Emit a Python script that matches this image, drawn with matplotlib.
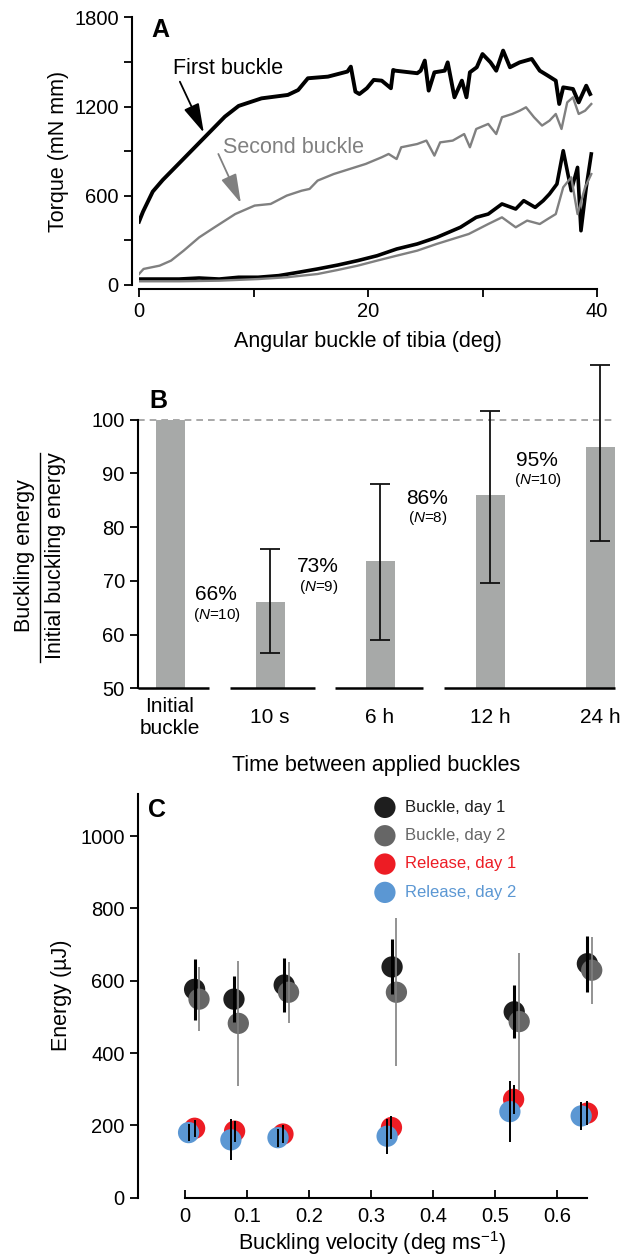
import numpy as np
import matplotlib
matplotlib.use("Agg")
import matplotlib.pyplot as plt
from matplotlib.lines import Line2D

plt.rcParams['font.family'] = ['Liberation Sans', 'DejaVu Sans']
plt.rcParams['mathtext.fontset'] = 'custom'
plt.rcParams['mathtext.rm'] = 'Liberation Sans'
plt.rcParams['mathtext.it'] = 'Liberation Sans:italic'
plt.rcParams['axes.linewidth'] = 1.5
plt.rcParams['xtick.major.width'] = 1.3
plt.rcParams['ytick.major.width'] = 1.3

# ---------------- data ----------------
# A: torque vs angle
first_load_x = [0, 0.35, 1.2, 2.07, 3.5, 5.5, 7.5, 8.7, 10.7, 13.0, 13.9, 14.75, 16.5, 18.2, 18.5,
                18.9, 19.25, 19.9, 20.5, 21.2, 22.0, 22.2, 22.4, 24.3, 24.6, 24.96, 25.3, 25.8,
                26.7, 26.96, 27.55, 28.2, 28.6, 28.9, 29.5, 30.0, 30.7, 31.2, 31.8, 32.4, 33.25,
                34.3, 35.0, 35.7, 36.4, 36.7, 37.05, 37.9, 38.4, 39.06, 39.4]
first_load_y = [426, 493, 628, 706, 818, 975, 1132, 1204, 1255, 1278, 1311, 1390, 1401, 1435, 1468,
                1300, 1284, 1323, 1379, 1374, 1323, 1446, 1441, 1424, 1441, 1509, 1307, 1430,
                1441, 1497, 1262, 1374, 1262, 1430, 1464, 1553, 1497, 1441, 1576, 1464, 1497,
                1520, 1441, 1408, 1374, 1217, 1329, 1318, 1228, 1340, 1284]
first_unload_x = [39.5, 39.06, 38.6, 38.3, 37.75, 37.05, 36.5, 35.85, 35.3, 34.6, 33.6, 32.9, 31.7,
                  30.5, 29.45, 28.07, 26.0, 24.3, 22.5, 20.8, 19.1, 17.35, 15.6, 13.9, 12.2, 10.4,
                  8.7, 7.0, 5.25, 3.5, 1.8, 0]
first_unload_y = [881, 657, 365, 791, 634, 903, 679, 612, 567, 522, 567, 511, 545,
                  477, 455, 388, 320, 276, 242, 197, 164, 134, 108, 85, 63, 52,
                  52, 40, 47, 40, 40, 40]
second_load_x = [0, 0.4, 1.8, 2.8, 3.9, 5.25, 6.6, 8.4, 10.1, 11.5, 12.9, 14.2, 14.9, 15.6, 17.0,
                 18.4, 19.8, 21.2, 21.8, 22.5, 22.9, 24.3, 25.1, 25.8, 26.3, 27.4, 28.4, 28.9,
                 29.45, 30.5, 31.2, 31.7, 32.6, 33.25, 33.8, 34.5, 35.2, 35.85, 36.4, 36.9, 37.4,
                 37.9, 38.4, 38.96, 39.5]
second_load_y = [74, 108, 130, 164, 231, 320, 388, 477, 534, 545, 601, 634, 646, 702, 746,
                 780, 814, 859, 881, 847, 926, 948, 971, 870, 959, 971, 1015, 926,
                 1049, 1083, 1015, 1128, 1150, 1172, 1195, 1128, 1072, 1105, 1150, 1049, 1228,
                 1262, 1150, 1172, 1217]
second_unload_x = [39.5, 38.96, 38.3, 37.75, 37.05, 36.4, 35.7, 35.0, 33.9, 32.9, 31.7, 30.5, 28.8,
                   26.0, 24.3, 22.5, 20.8, 19.1, 17.35, 15.6, 12.9, 10.4, 7.0, 3.5, 0]
second_unload_y = [746, 657, 477, 724, 657, 477, 444, 410, 433, 388, 455, 410, 343,
                   276, 231, 197, 164, 130, 101, 74, 52, 40, 29, 25, 25]

# B: buckling energy relative to initial
b_labels = ['Initial\nbuckle', '10 s', '6 h', '12 h', '24 h']
b_pos = [0, 1, 2.1, 3.2, 4.3]
b_vals = [100, 66, 73.7, 86, 95]
b_lo = [np.nan, 56.5, 59, 69.7, 77.5]
b_hi = [np.nan, 76, 88, 101.7, 110.2]
b_pct = ['66%', '73%', '86%', '95%']
b_n = ['10', '9', '8', '10']

# C: energy vs buckling velocity
c_names = ['Buckle, day 1', 'Buckle, day 2', 'Release, day 1', 'Release, day 2']
c_x = [[0.0155, 0.079, 0.160, 0.334, 0.531, 0.649],
       [0.0226, 0.086, 0.167, 0.341, 0.539, 0.656],
       [0.0155, 0.080, 0.158, 0.333, 0.530, 0.649],
       [0.0058, 0.074, 0.150, 0.326, 0.524, 0.639]]
c_y = [[576, 549, 588, 638, 514, 647],
       [549, 482, 568, 568, 487, 629],
       [192, 184, 176, 194, 272, 234],
       [180, 160, 166, 170, 238, 226]]
c_err = [[85, 63, 75, 76, 73, 77],
         [88, 172, 85, 205, 190, 93],
         [23, 29, 25, 32, 40, 34],
         [24, 57, 25, 48, 84, 38]]

W, H = 623, 1260
fig = plt.figure(figsize=(W / 100, H / 100), dpi=100)


def box(l, r, t, b):
    return [l / W, 1 - b / H, (r - l) / W, (b - t) / H]


TICK = 14.5
LAB = 15.5

# ---------------- A ----------------
axA = fig.add_axes(box(139, 597, 17.3, 285))
axA.plot(first_unload_x, first_unload_y, color='black', lw=2.6)
axA.plot(second_unload_x, second_unload_y, color='#808080', lw=1.7)
axA.plot(second_load_x, second_load_y, color='#808080', lw=1.7)
axA.plot(first_load_x, first_load_y, color='black', lw=2.8)
axA.set_xlim(0, 40)
axA.set_ylim(0, 1800)
axA.spines[['top', 'right']].set_visible(False)
axA.spines['left'].set_position(('outward', 5))
axA.spines['bottom'].set_position(('outward', 3))
axA.set_yticks(np.arange(0, 1801, 300), ['0', '', '600', '', '1200', '', '1800'])
axA.set_xticks(np.arange(0, 41, 10), ['0', '', '20', '', '40'])
axA.tick_params(labelsize=TICK, length=6)
axA.set_ylabel('Torque (mN mm)', fontsize=LAB, labelpad=4)
axA.set_xlabel('Angular buckle of tibia (deg)', fontsize=LAB, labelpad=7)

arrow_kw = dict(arrowstyle='-|>,head_length=0.9,head_width=0.25', lw=1.3, mutation_scale=20,
                shrinkA=0, shrinkB=0)
axA.annotate('', xy=(5.66, 1024), xytext=(3.57, 1367),
             arrowprops=dict(color='black', **arrow_kw))
axA.text(7.75, 1455, 'First buckle', fontsize=LAB, ha='center', va='center')
axA.annotate('', xy=(8.9, 550), xytext=(6.93, 881),
             arrowprops=dict(color='#808080', **arrow_kw))
axA.text(13.45, 925, 'Second buckle', fontsize=LAB, ha='center', va='center', color='#808080')
fig.text(151 / W, 1 - 37 / H, 'A', fontsize=18, fontweight='bold', va='baseline')

# ---------------- B ----------------
axB = fig.add_axes(box(138, 615, 360.7, 688.3))
axB.bar(b_pos, np.array(b_vals) - 50, bottom=50, width=0.29, color='#a7a9a8')
b_y = np.array(b_vals[1:])
axB.errorbar(b_pos[1:], b_y, yerr=[b_y - np.array(b_lo[1:]), np.array(b_hi[1:]) - b_y],
             fmt='none', ecolor='#111111', elinewidth=1.3, capsize=7, capthick=1.3)
axB.axhline(100, color='#999999', lw=1.2, ls=(0, (4, 3)), zorder=0)
for x0, x1 in [(-0.32, 0.39), (0.60, 1.45), (1.65, 2.53), (2.74, 4.45)]:
    axB.plot([x0, x1], [50, 50], color='black', lw=1.8, solid_capstyle='butt', clip_on=False)
axB.set_xlim(-0.32, 4.45)
axB.set_ylim(50, 111)
axB.spines[['top', 'right', 'bottom']].set_visible(False)
axB.spines['left'].set_bounds(50, 100)
axB.set_yticks(np.arange(50, 101, 10))
axB.tick_params(axis='y', labelsize=TICK, length=6)
axB.set_xticks(b_pos, b_labels)
axB.tick_params(axis='x', length=0, labelsize=15, pad=21)
for lbl in axB.get_xticklabels():
    lbl.set_verticalalignment('center')
axB.set_xlabel('Time between applied buckles', fontsize=LAB, labelpad=12)
pct_xy = [(0.46, 67.4), (1.48, 72.6), (2.57, 85.4), (3.67, 92.5)]
for (tx, ty), p, n in zip(pct_xy, b_pct, b_n):
    axB.text(tx, ty, p, fontsize=15, ha='center', va='center')
    axB.text(tx + 0.01, ty - 3.7, '($\\it{N}$=' + n + ')', fontsize=11, ha='center', va='center')
fig.text(25 / W, 1 - 556 / H, 'Buckling energy', rotation=90, fontsize=LAB,
         ha='center', va='center')
fig.text(56 / W, 1 - 556 / H, 'Initial buckling energy', rotation=90, fontsize=LAB,
         ha='center', va='center')
fig.add_artist(Line2D([39.5 / W, 39.5 / W], [1 - 453 / H, 1 - 662 / H], color='black', lw=1.0))
fig.text(149 / W, 1 - 408 / H, 'B', fontsize=18, fontweight='bold', va='baseline')

# ---------------- C ----------------
axC = fig.add_axes(box(138, 606.6, 793.7, 1197.7))
c_colors = ['#1e1e1e', '#666666', '#ed1c24', '#5b97d3']
err_colors = ['black', '#808080', 'black', 'black']
err_lw = [2.2, 1.2, 1.4, 1.4]
for k in range(4):
    axC.scatter(c_x[k], c_y[k], s=235, color=c_colors[k], edgecolors='none', zorder=2 + k,
                label=c_names[k])
for k in range(4):
    axC.errorbar(c_x[k], c_y[k], yerr=c_err[k], fmt='none', ecolor=err_colors[k],
                 elinewidth=err_lw[k], capsize=0, zorder=7)
axC.set_xlim(-0.0758, 0.68)
axC.set_ylim(0, 1117)
axC.spines[['top', 'right']].set_visible(False)
axC.spines['bottom'].set_bounds(0, 0.648)
axC.set_yticks(np.arange(0, 1001, 200))
axC.set_xticks(np.arange(0, 0.61, 0.1), ['0', '0.1', '0.2', '0.3', '0.4', '0.5', '0.6'])
axC.tick_params(axis='y', labelsize=TICK, length=6)
axC.tick_params(axis='x', labelsize=TICK, length=6, direction='in', pad=7)
axC.set_ylabel('Energy (µJ)', fontsize=LAB, labelpad=6)
axC.set_xlabel('Buckling velocity (deg ms$^{\\mathregular{-1}}$)', fontsize=LAB, labelpad=2)
axC.legend(loc='upper left', bbox_to_anchor=(0.502, 0.985), frameon=False, fontsize=12,
           labelcolor='markerfacecolor', handletextpad=0.5, labelspacing=0.8,
           borderaxespad=0, borderpad=0, handlelength=1.4)
fig.text(148 / W, 1 - 817 / H, 'C', fontsize=18, fontweight='bold', va='baseline')

fig.savefig('out.png', dpi=100)
